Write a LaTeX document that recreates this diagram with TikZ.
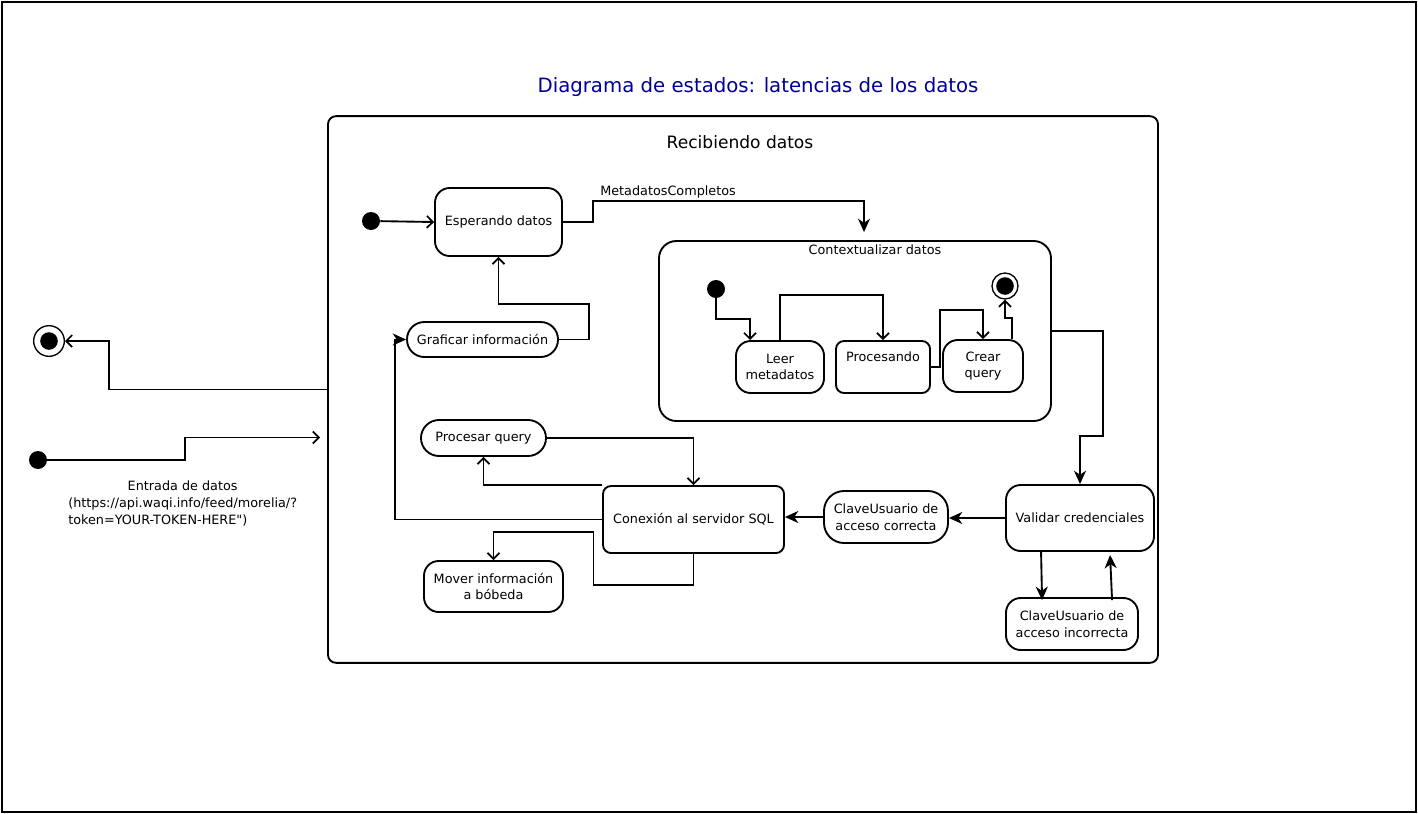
\documentclass[tikz,border=0pt]{standalone}
\usepackage{fontspec}
\setmainfont{DejaVu Sans}
\usetikzlibrary{arrows.meta,calc}
\definecolor{titulo}{RGB}{0,0,153}
\tikzset{
    estado/.style={draw,line width=1.4pt,rounded corners=11pt,align=center,inner sep=0pt,
        font=\fontsize{9.6}{12.5}\selectfont},
    inicial/.style={circle,fill=black,inner sep=0pt,minimum size=13.5pt},
    final/.style={circle,draw,line width=1pt,fill=white,inner sep=0pt,
        path picture={\fill[black] (path picture bounding box.center) circle (6.6pt);}},
    abierta/.style={line width=1.4pt,-{Straight Barb[length=4.5pt,width=9pt,line width=1.3pt]}},
    llena/.style={line width=1.4pt,-{Stealth[length=10pt,width=9pt,inset=3pt]}},
    texto/.style={inner sep=0pt,font=\fontsize{9.6}{12.5}\selectfont}
}
\begin{document}
                \begin{tikzpicture}[x=0.75pt,y=-0.75pt]
                    \useasboundingbox (0,0) rectangle (1418,814);
                    \draw[line width=1.4pt] (2,2) rectangle (1416,812);
                    \node[text=titulo,font=\fontsize{14.8}{17}\selectfont] (titulo) at (758,87) {Diagrama de estados: latencias de los datos};
                    % estado compuesto principal
                    \node[estado,rounded corners=6pt,minimum width=622.5pt,minimum height=410pt] (recibiendo) at (743,389.5) {};
                    \node[font=\fontsize{12.8}{15}\selectfont] (lblrecibiendo) at (740,142) {Recibiendo datos};
                    \node[estado,minimum width=95.25pt,minimum height=51pt] (esperando) at (498.5,222) {Esperando datos};
                    \node[estado,rounded corners=13pt,minimum width=113.25pt,minimum height=26.25pt] (graficar) at (482.5,339.5) {Graficar información};
                    \node[inicial] (ini1) at (371,221) {};
                    % contextualizar
                    \node[estado,rounded corners=13pt,minimum width=294pt,minimum height=135pt] (contexto) at (855,331) {};
                    \node[texto] (lblcontexto) at (875,250) {Contextualizar datos};
                    \node[inicial] (ini2) at (716,289) {};
                    \node[estado,minimum width=66pt,minimum height=39pt] (leer) at (780,367) {Leer\\metadatos};
                    \node[estado,rounded corners=6pt,minimum width=70.5pt,minimum height=39pt] (procesando) at (883,367) {};
                    \node[texto] (lblprocesando) at (883,357) {Procesando};
                    \node[estado,minimum width=60pt,minimum height=39pt] (crear) at (983,366) {Crear\\query};
                    \node[final,minimum size=19.5pt] (fin1) at (1005,286) {};
                    % validacion y conexion
                    \node[estado,minimum width=111pt,minimum height=49.5pt] (validar) at (1080,518) {Validar credenciales};
                    \node[estado,rounded corners=15pt,minimum width=93pt,minimum height=39pt] (correcta) at (886,517) {ClaveUsuario de\\acceso correcta};
                    \node[estado,minimum width=99pt,minimum height=39pt] (incorrecta) at (1072,624) {ClaveUsuario de\\acceso incorrecta};
                    \node[estado,rounded corners=6pt,minimum width=135.75pt,minimum height=50.25pt] (conexion) at (693.5,519.5) {Conexión al servidor SQL};
                    \node[estado,rounded corners=13.5pt,minimum width=93.75pt,minimum height=27pt] (procesar) at (483.5,438) {Procesar query};
                    \node[estado,minimum width=104.25pt,minimum height=38.25pt] (mover) at (493.5,586.5) {Mover información\\a bóbeda};
                    % fuera del estado compuesto
                    \node[final,minimum size=23pt] (fin2) at (49,341) {};
                    \node[inicial] (ini3) at (38,460) {};
                    \node[texto,anchor=north west] (lblentrada) at (68,479) {\begin{tabular}{@{}l@{}}\multicolumn{1}{@{}c@{}}{Entrada de datos}\\(https://api.waqi.info/feed/morelia/?\\token=YOUR-TOKEN-HERE\textquotedbl)\end{tabular}};
                    \node[texto,anchor=south west] (lblmeta) at (600,198) {MetadatosCompletos};
                    % transiciones
                    \draw[abierta] (ini1) -- (esperando.west);
                    \draw[llena] (esperando.east) -- ++(30,0) |- ($(contexto.north)+(9,-39)$) -- ++(0,31);
                    \draw[abierta] (ini2) |- ($(leer.north west)+(15,-21)$) -- ($(leer.north west)+(15,0)$);
                    \draw[abierta] (leer.north) -- ++(0,-45) -| (procesando.north);
                    \draw[abierta] (procesando.east) -- ++(9,0) -- ++(0,-57) -| (crear.north);
                    \draw[abierta] ($(crear.north east)+(-12,0)$) -- ++(0,-21) -| (fin1.south);
                    \draw[llena] (contexto.east) -- ++(51,0) |- ($(validar.north)+(0,-48)$) -- (validar.north);
                    \draw[llena] (validar.west) -- (validar.west -| correcta.east);
                    \draw[llena] (correcta.west) -- (correcta.west -| conexion.east);
                    \draw[llena] ($(validar.south west)+(36,0)$) -- ($(incorrecta.north west)+(37,3)$);
                    \draw[llena] ($(incorrecta.north west)+(107,3)$) -- ($(validar.south west)+(105,3)$);
                    \draw[abierta] (procesar.east) -| (conexion.north);
                    \draw[abierta] (conexion.north west) -| (procesar.south);
                    \draw[llena] (conexion.west) -- ++(-207,0) |- (graficar.west);
                    \draw[abierta] (graficar.east) -- ++(30,0) |- ($(esperando.south)+(0,47)$) -- (esperando.south);
                    \draw[abierta] (conexion.south) -- ++(0,31) -- ++(-100,0) -- ++(0,-53) -| (mover.north);
                    \draw[abierta] (recibiendo.west) -- ++(-218,0) |- (fin2.east);
                    \draw[abierta] (ini3.east) -- ++(138,0) |- ($(recibiendo.west)+(-7,48)$);
                \end{tikzpicture}
\end{document}
